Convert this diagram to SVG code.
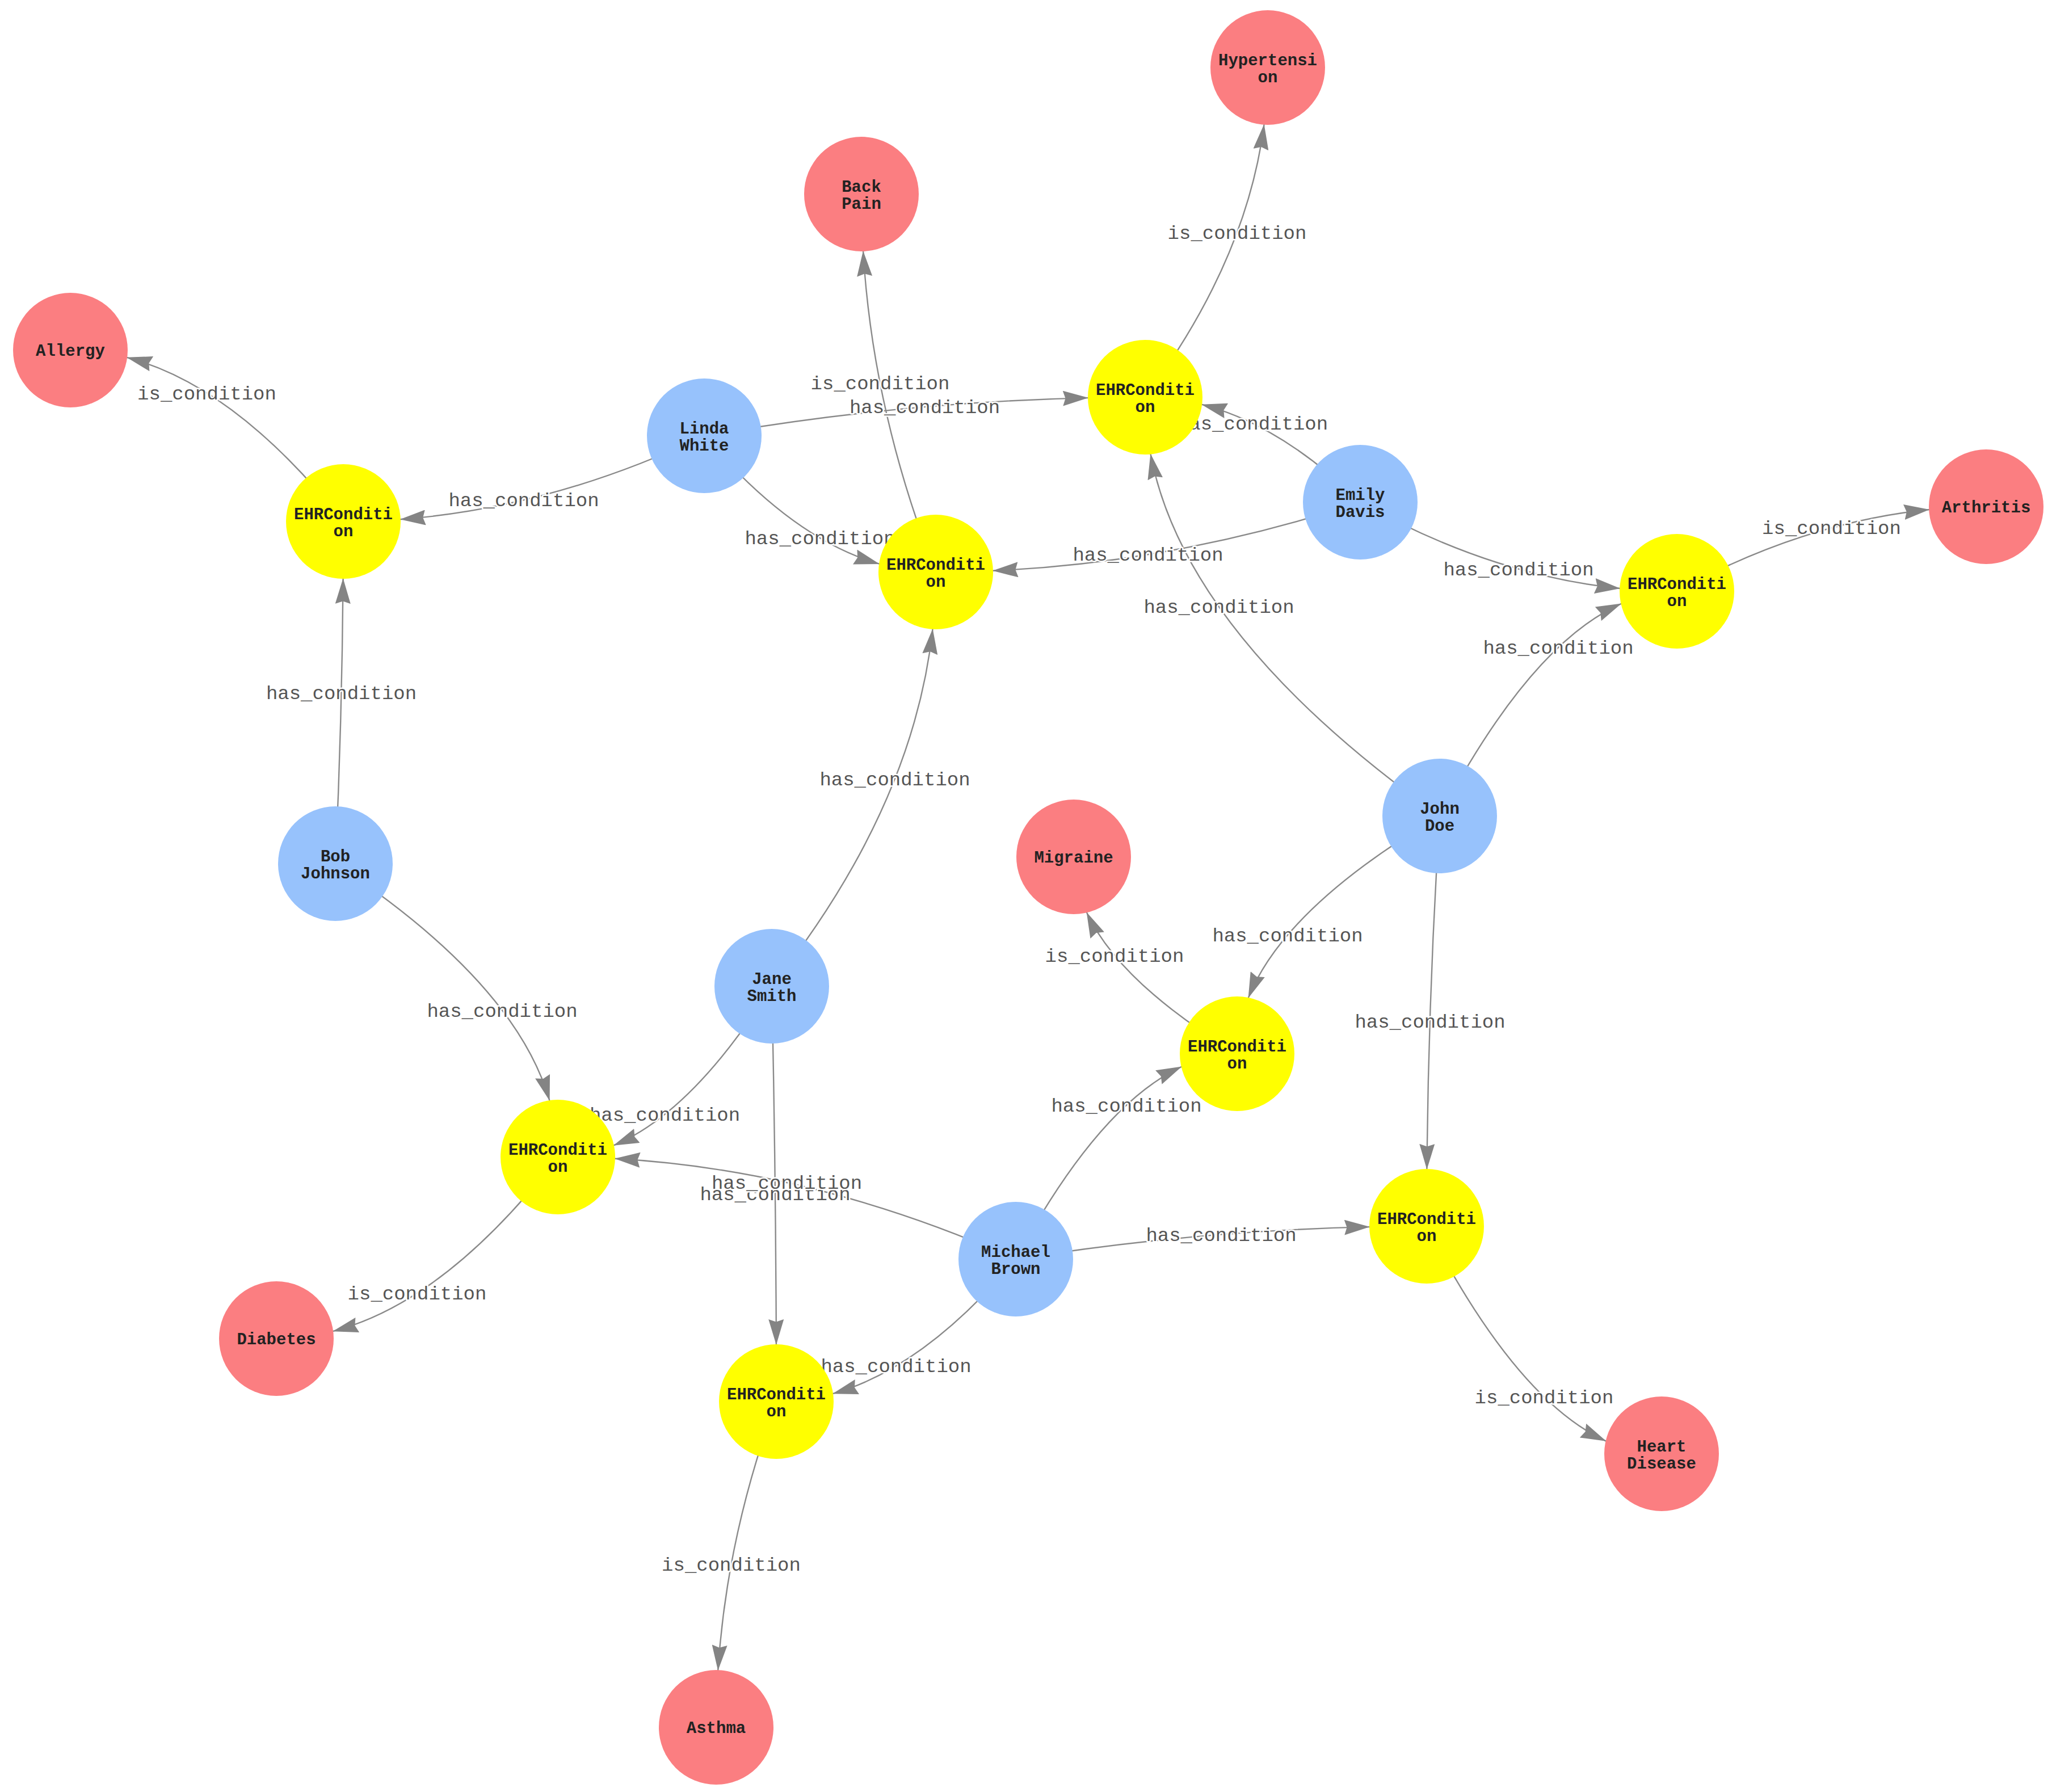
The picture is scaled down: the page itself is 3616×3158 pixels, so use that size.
<svg xmlns="http://www.w3.org/2000/svg" width="3616" height="3158" viewBox="0 0 3616 3158">
<defs>
<marker id="arr" markerUnits="userSpaceOnUse" markerWidth="45" markerHeight="27" viewBox="0 0 45 27" refX="45" refY="13.5" orient="auto">
<path d="M45,13.5 L0,0 L4.5,13.5 L0,27 Z" fill="#848484"/>
</marker>
</defs>
<style>
.e{fill:none;stroke:#8a8a8a;stroke-width:2.4;marker-end:url(#arr)}
.l{font-family:"Liberation Mono","Courier New",monospace;font-size:34px;fill:#555;text-anchor:middle;stroke:#fff;stroke-width:5;paint-order:stroke;stroke-linejoin:round}
.t{font-family:"Liberation Mono","Courier New",monospace;font-size:29px;font-weight:bold;fill:#222;text-anchor:middle}
.p{fill:#97C2FC}
.c{fill:#FB7E81}
.h{fill:#FFFF00}
</style>
<rect width="3616" height="3158" fill="#fff"/>
<g id="connectors">
<path class="e" d="M2018,700 Q2196.9,459.4 2227.6,218.8"/>
<path class="e" d="M1649,1008 Q1537.7,725 1521,442"/>
<path class="e" d="M605,919 Q414.1,679.3 223.2,629.8"/>
<path class="e" d="M2955,1042 Q3177.6,920.3 3400.1,898"/>
<path class="e" d="M2180,1857 Q1972.8,1732.2 1914.7,1607.4"/>
<path class="e" d="M983,2039 Q784.6,2295 586.2,2346.2"/>
<path class="e" d="M2514,2161 Q2672.3,2467.6 2830.5,2539.8"/>
<path class="e" d="M1368,2470 Q1280.5,2707 1265.2,2944.1"/>
<path class="e" d="M1241,768 Q1579.5,708.8 1918,701.1"/>
<path class="e" d="M1241,768 Q973,895.3 704.9,915.3"/>
<path class="e" d="M1241,768 Q1395.5,949.8 1550,993.9"/>
<path class="e" d="M2397,885 Q2257.1,748.4 2117.2,712.7"/>
<path class="e" d="M2397,885 Q2073,991.6 1749,1005.8"/>
<path class="e" d="M2397,885 Q2626.1,1013.9 2855.1,1037"/>
<path class="e" d="M2537,1438 Q2088,1118.8 2027.4,799.6"/>
<path class="e" d="M2537,1438 Q2697.2,1134.5 2857.4,1063.6"/>
<path class="e" d="M2537,1438 Q2263.6,1598.5 2199.6,1758.9"/>
<path class="e" d="M2537,1438 Q2517.2,1749.5 2514.4,2061"/>
<path class="e" d="M591,1522 Q602.7,1270.5 604.6,1019"/>
<path class="e" d="M591,1522 Q908,1731 968.6,1940"/>
<path class="e" d="M1360,1738 Q1609.5,1422.9 1643.6,1107.9"/>
<path class="e" d="M1360,1738 Q1220.5,1960.8 1080.9,2018.7"/>
<path class="e" d="M1360,1738 Q1366.9,2054 1367.9,2370"/>
<path class="e" d="M1790,2219 Q1436.5,2061.3 1083,2041.8"/>
<path class="e" d="M1790,2219 Q1936.3,1947.4 2082.6,1879.6"/>
<path class="e" d="M1790,2219 Q2102,2169 2414,2162.1"/>
<path class="e" d="M1790,2219 Q1628.5,2411.1 1467,2456.2"/>
</g>
<g id="edge-labels">
<text class="l" x="2180" y="420.5">is_condition</text>
<text class="l" x="1551" y="686">is_condition</text>
<text class="l" x="364.5" y="703.5">is_condition</text>
<text class="l" x="3227.5" y="941">is_condition</text>
<text class="l" x="1964" y="1694.5">is_condition</text>
<text class="l" x="735" y="2290">is_condition</text>
<text class="l" x="2721" y="2473">is_condition</text>
<text class="l" x="1288.5" y="2768">is_condition</text>
<text class="l" x="1629.5" y="728">has_condition</text>
<text class="l" x="923" y="892">has_condition</text>
<text class="l" x="1445" y="959">has_condition</text>
<text class="l" x="2207.5" y="757">has_condition</text>
<text class="l" x="2023" y="988">has_condition</text>
<text class="l" x="2676" y="1014">has_condition</text>
<text class="l" x="2148" y="1080">has_condition</text>
<text class="l" x="2746" y="1152">has_condition</text>
<text class="l" x="2269" y="1658.5">has_condition</text>
<text class="l" x="2520" y="1810.5">has_condition</text>
<text class="l" x="601.5" y="1231.5">has_condition</text>
<text class="l" x="885" y="1791.5">has_condition</text>
<text class="l" x="1577" y="1384">has_condition</text>
<text class="l" x="1171.5" y="1975">has_condition</text>
<text class="l" x="1366" y="2115">has_condition</text>
<text class="l" x="1386.5" y="2095">has_condition</text>
<text class="l" x="1985" y="1958.5">has_condition</text>
<text class="l" x="2152" y="2186.5">has_condition</text>
<text class="l" x="1579" y="2418">has_condition</text>
</g>
<g id="hypertension"><circle class="c" cx="2234" cy="119" r="101"/><text class="t" x="2234" y="115">Hypertensi<tspan x="2234" dy="30">on</tspan></text></g>
<g id="back-pain"><circle class="c" cx="1518" cy="342" r="101"/><text class="t" x="1518" y="338">Back<tspan x="1518" dy="30">Pain</tspan></text></g>
<g id="allergy"><circle class="c" cx="124" cy="617" r="101"/><text class="t" x="124" y="627">Allergy</text></g>
<g id="arthritis"><circle class="c" cx="3500" cy="893" r="101"/><text class="t" x="3500" y="903">Arthritis</text></g>
<g id="migraine"><circle class="c" cx="1892" cy="1510" r="101"/><text class="t" x="1892" y="1520">Migraine</text></g>
<g id="diabetes"><circle class="c" cx="487" cy="2359" r="101"/><text class="t" x="487" y="2369">Diabetes</text></g>
<g id="heart-disease"><circle class="c" cx="2928" cy="2562" r="101"/><text class="t" x="2928" y="2558">Heart<tspan x="2928" dy="30">Disease</tspan></text></g>
<g id="asthma"><circle class="c" cx="1262" cy="3044" r="101"/><text class="t" x="1262" y="3054">Asthma</text></g>
<g id="linda-white"><circle class="p" cx="1241" cy="768" r="101"/><text class="t" x="1241" y="764">Linda<tspan x="1241" dy="30">White</tspan></text></g>
<g id="emily-davis"><circle class="p" cx="2397" cy="885" r="101"/><text class="t" x="2397" y="881">Emily<tspan x="2397" dy="30">Davis</tspan></text></g>
<g id="john-doe"><circle class="p" cx="2537" cy="1438" r="101"/><text class="t" x="2537" y="1434">John<tspan x="2537" dy="30">Doe</tspan></text></g>
<g id="bob-johnson"><circle class="p" cx="591" cy="1522" r="101"/><text class="t" x="591" y="1518">Bob<tspan x="591" dy="30">Johnson</tspan></text></g>
<g id="jane-smith"><circle class="p" cx="1360" cy="1738" r="101"/><text class="t" x="1360" y="1734">Jane<tspan x="1360" dy="30">Smith</tspan></text></g>
<g id="michael-brown"><circle class="p" cx="1790" cy="2219" r="101"/><text class="t" x="1790" y="2215">Michael<tspan x="1790" dy="30">Brown</tspan></text></g>
<g id="ehr-1"><circle class="h" cx="2018" cy="700" r="101"/><text class="t" x="2018" y="696">EHRConditi<tspan x="2018" dy="30">on</tspan></text></g>
<g id="ehr-2"><circle class="h" cx="605" cy="919" r="101"/><text class="t" x="605" y="915">EHRConditi<tspan x="605" dy="30">on</tspan></text></g>
<g id="ehr-3"><circle class="h" cx="1649" cy="1008" r="101"/><text class="t" x="1649" y="1004">EHRConditi<tspan x="1649" dy="30">on</tspan></text></g>
<g id="ehr-4"><circle class="h" cx="2955" cy="1042" r="101"/><text class="t" x="2955" y="1038">EHRConditi<tspan x="2955" dy="30">on</tspan></text></g>
<g id="ehr-5"><circle class="h" cx="2180" cy="1857" r="101"/><text class="t" x="2180" y="1853">EHRConditi<tspan x="2180" dy="30">on</tspan></text></g>
<g id="ehr-6"><circle class="h" cx="983" cy="2039" r="101"/><text class="t" x="983" y="2035">EHRConditi<tspan x="983" dy="30">on</tspan></text></g>
<g id="ehr-7"><circle class="h" cx="2514" cy="2161" r="101"/><text class="t" x="2514" y="2157">EHRConditi<tspan x="2514" dy="30">on</tspan></text></g>
<g id="ehr-8"><circle class="h" cx="1368" cy="2470" r="101"/><text class="t" x="1368" y="2466">EHRConditi<tspan x="1368" dy="30">on</tspan></text></g>
</svg>
